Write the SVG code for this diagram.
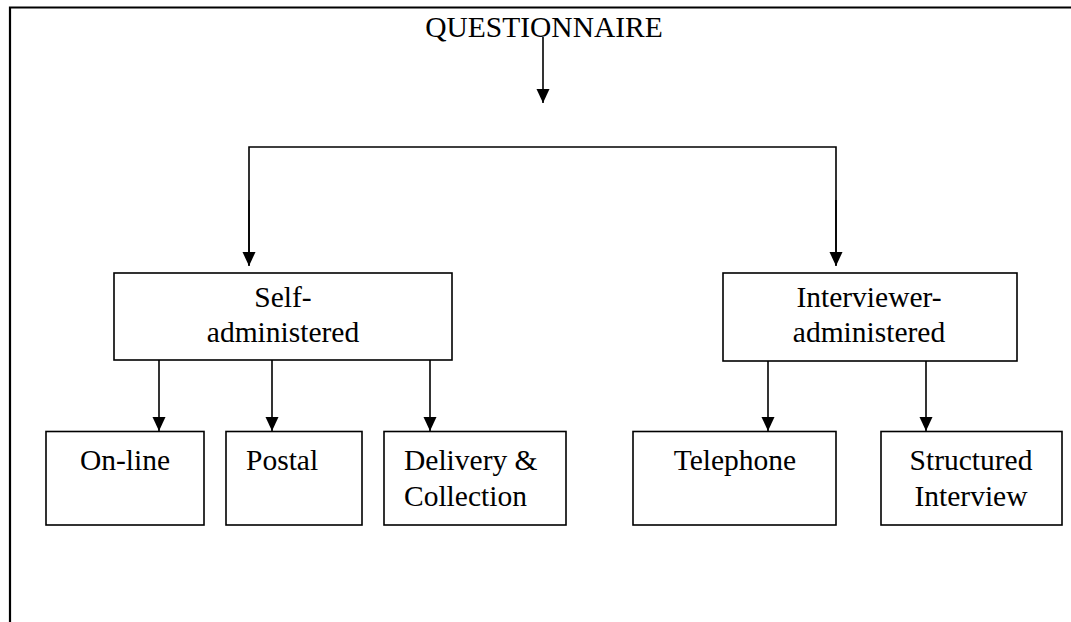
<svg xmlns="http://www.w3.org/2000/svg" width="1071" height="622" viewBox="0 0 1071 622">
  <style>
    .frame { fill: none; stroke: #000; stroke-width: 2.2; }
    .box { fill: #fff; stroke: #000; stroke-width: 1.6; }
    .link { fill: none; stroke: #000; stroke-width: 1.6; }
    .arrow { fill: none; stroke: #000; stroke-width: 1.6; marker-end: url(#head); }
    text { font-family: "Liberation Serif", "Times New Roman", serif; font-size: 29.5px; fill: #000; }
    .c { text-anchor: middle; }
  </style>
  <defs>
    <marker id="head" markerUnits="userSpaceOnUse" markerWidth="14" markerHeight="16" refX="7" refY="15" orient="0" viewBox="0 0 14 16">
      <path d="M0.5,1 L13.5,1 L7,15 Z" fill="#000"/>
    </marker>
  </defs>
  <rect width="1071" height="622" fill="#fff"/>

  <!-- page frame: top and left edges only -->
  <path class="frame" d="M10,622 L10,7.5 L1071,7.5"/>

  <g id="connectors">
    <line class="arrow" x1="543" y1="37" x2="543" y2="103"/>
    <path class="link" d="M249,265 L249,147 L836,147 L836,265"/>
    <line class="arrow" x1="249" y1="200" x2="249" y2="266"/>
    <line class="arrow" x1="836" y1="200" x2="836" y2="266"/>
    <line class="arrow" x1="159" y1="360" x2="159" y2="431"/>
    <line class="arrow" x1="272" y1="360" x2="272" y2="431"/>
    <line class="arrow" x1="430" y1="360" x2="430" y2="431"/>
    <line class="arrow" x1="768" y1="361" x2="768" y2="431"/>
    <line class="arrow" x1="926" y1="361" x2="926" y2="431"/>
  </g>

  <g id="questionnaire">
    <text class="c" x="544" y="37">QUESTIONNAIRE</text>
  </g>

  <g id="self-administered">
    <rect class="box" x="114" y="273" width="338" height="87"/>
    <text class="c" x="283" y="307">Self-</text>
    <text class="c" x="283" y="341.5">administered</text>
  </g>

  <g id="interviewer-administered">
    <rect class="box" x="723" y="273" width="294" height="88"/>
    <text class="c" x="869" y="307">Interviewer-</text>
    <text class="c" x="869" y="341.5">administered</text>
  </g>

  <g id="on-line">
    <rect class="box" x="46" y="431.5" width="158" height="93.5"/>
    <text class="c" x="125" y="470">On-line</text>
  </g>

  <g id="postal">
    <rect class="box" x="226" y="431.5" width="136" height="93.5"/>
    <text x="246" y="470">Postal</text>
  </g>

  <g id="delivery-collection">
    <rect class="box" x="384" y="431.5" width="182" height="93.5"/>
    <text x="404" y="470">Delivery &amp;</text>
    <text x="404" y="506">Collection</text>
  </g>

  <g id="telephone">
    <rect class="box" x="633" y="431.5" width="203" height="93.5"/>
    <text class="c" x="735" y="470">Telephone</text>
  </g>

  <g id="structured-interview">
    <rect class="box" x="881" y="431.5" width="181" height="93.5"/>
    <text class="c" x="971" y="470">Structured</text>
    <text class="c" x="971" y="506">Interview</text>
  </g>
</svg>
